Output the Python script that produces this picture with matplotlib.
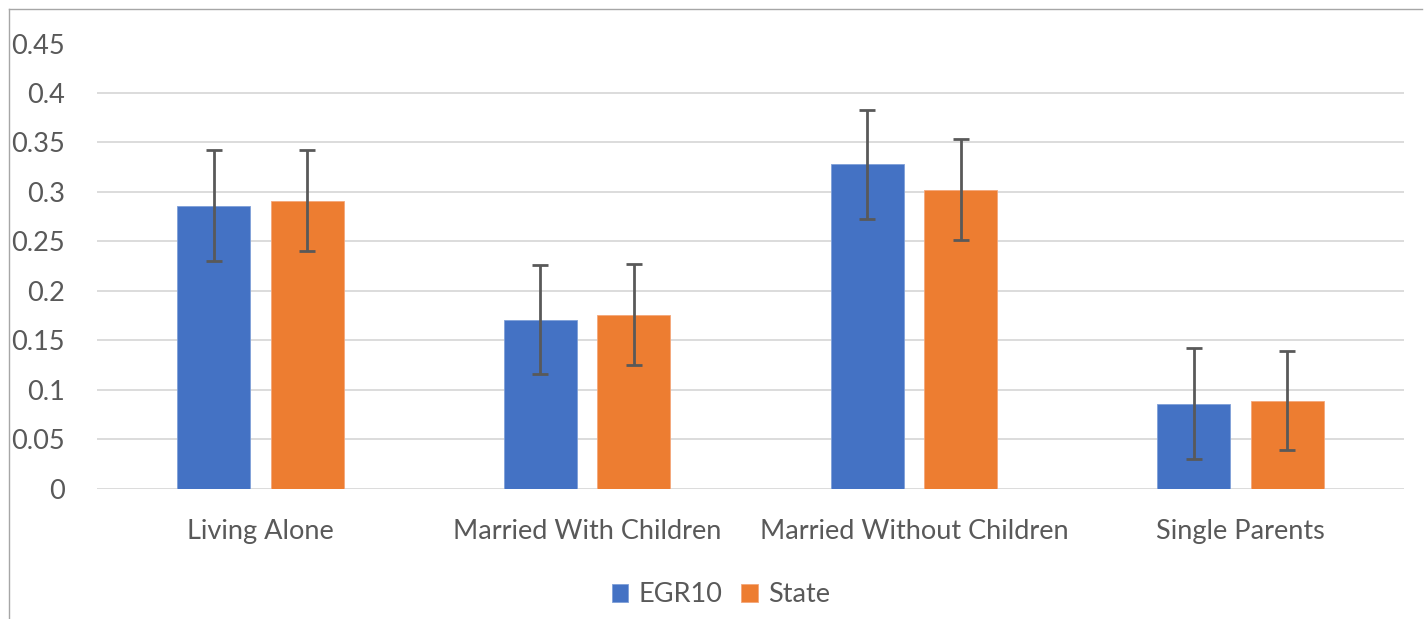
import matplotlib.pyplot as plt
import numpy as np
from matplotlib.lines import Line2D

BLUE, ORANGE, TEXT, GRID = "#4472C4", "#ED7D31", "#595959", "#D9D9D9"

plt.rcParams.update({
    "font.family": ["Lato", "DejaVu Sans"],
    "figure.facecolor": "white",
})

# household type shares with error margins
categories = ["Living Alone", "Married With Children", "Married Without Children", "Single Parents"]
egr10 = [0.286, 0.171, 0.328, 0.086]
egr10_err = [0.056, 0.055, 0.055, 0.056]
state = [0.291, 0.176, 0.302, 0.089]
state_err = [0.051, 0.051, 0.051, 0.050]
yticks = [0, 0.05, 0.1, 0.15, 0.2, 0.25, 0.3, 0.35, 0.4, 0.45]
ytick_labels = ["0", "0.05", "0.1", "0.15", "0.2", "0.25", "0.3", "0.35", "0.4", "0.45"]

fig = plt.figure(figsize=(14.24, 6.19), dpi=100)
ax = fig.add_axes([97 / 1424, 1 - 488.7 / 619, (1404 - 97) / 1424, (488.7 - 43.5) / 619])

x = np.arange(len(categories))
w, off = 0.223, 0.143
err_kw = dict(ecolor=TEXT, elinewidth=2.0, capsize=5.5, capthick=2.0)
ax.bar(x - off, egr10, w, color=BLUE, yerr=egr10_err, error_kw=err_kw,
       edgecolor="#7F9FD8", linewidth=0.6, label="EGR10", zorder=3)
ax.bar(x + off, state, w, color=ORANGE, yerr=state_err, error_kw=err_kw,
       edgecolor="#F4A77A", linewidth=0.6, label="State", zorder=3)

ax.set_xlim(-0.5, len(categories) - 0.5)
ax.set_ylim(0, 0.45)
ax.set_yticks(yticks)
ax.set_yticklabels(ytick_labels)
ax.set_xticks(x)
ax.set_xticklabels(categories)
ax.tick_params(axis="y", length=0, pad=23, labelsize=19.5, labelcolor=TEXT)
ax.tick_params(axis="x", length=0, pad=22, labelsize=19.5, labelcolor=TEXT)
ax.grid(axis="y", color=GRID, linewidth=1.3, zorder=0)
ax.set_axisbelow(True)
for s in ax.spines.values():
    s.set_visible(False)

fig.legend(loc="center", bbox_to_anchor=(721 / 1424, 1 - 595 / 619), ncol=2, frameon=False,
           fontsize=19.5, labelcolor=TEXT, handlelength=0.6, handleheight=0.6,
           handletextpad=0.4, columnspacing=0.7)

# chart border (partially cropped in the original)
fig.add_artist(Line2D([9 / 1424, 1422 / 1424], [1 - 9 / 619, 1 - 9 / 619], color="#A6A6A6", linewidth=1.0))
fig.add_artist(Line2D([9 / 1424, 9 / 1424], [1 - 9 / 619, 0], color="#A6A6A6", linewidth=1.0))

plt.savefig("out.png", dpi=100, facecolor="white")
plt.close()
